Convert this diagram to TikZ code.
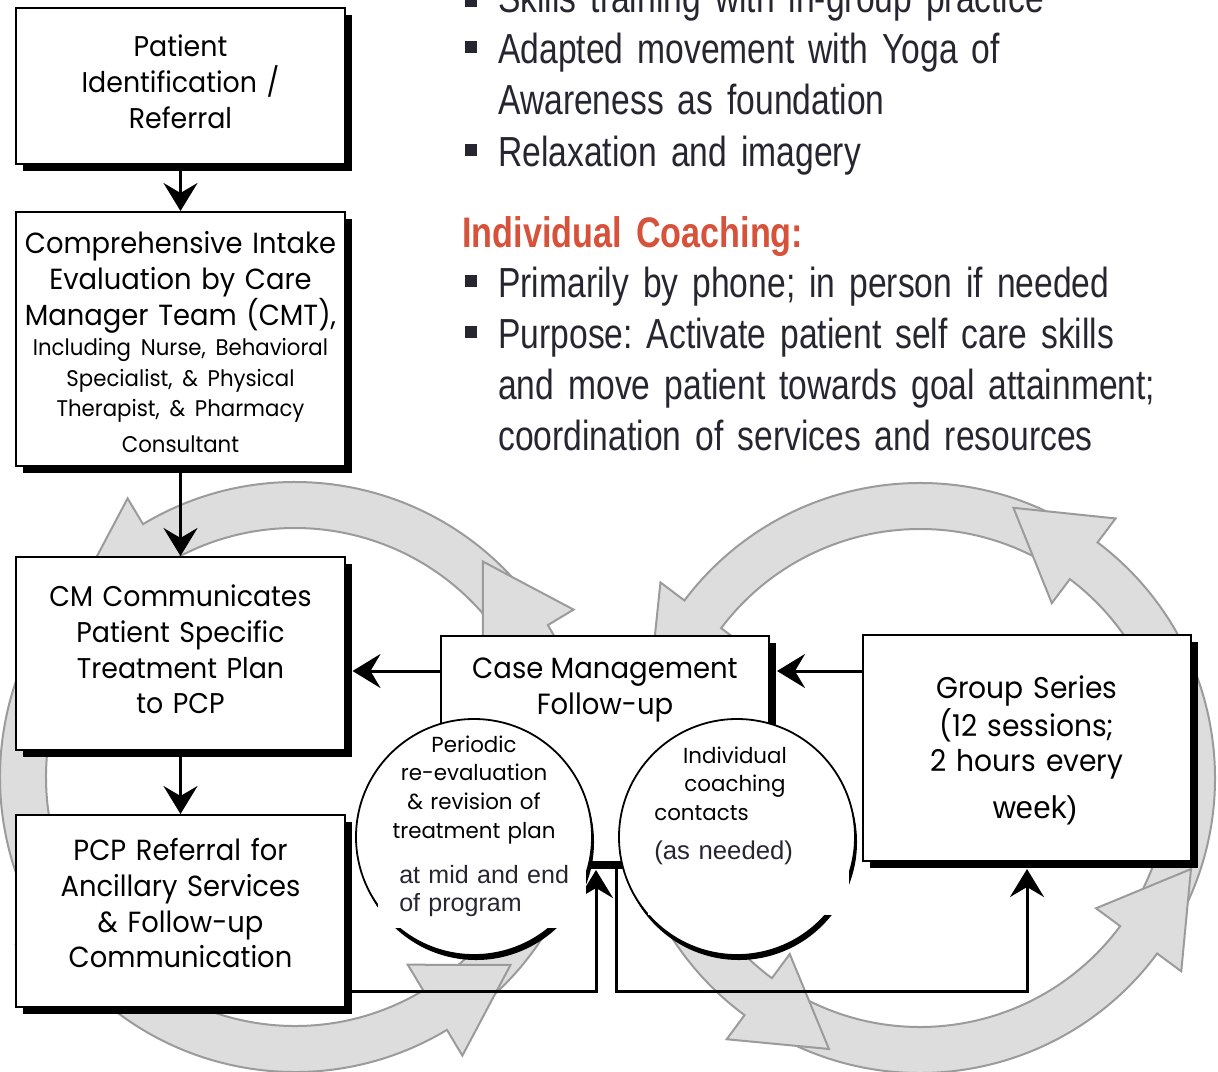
\documentclass[tikz,border=0pt]{standalone}
\usepackage{fontspec}
\usetikzlibrary{arrows.meta,calc,shadows}
\newfontfamily\boxfont{Poppins}[FakeStretch=0.94]
\newfontfamily\circfont{Poppins}[FakeStretch=0.98]
\newfontfamily\narrowfont{Liberation Sans}[FakeStretch=0.80]
\newfontfamily\notefont{Liberation Sans}
\definecolor{ringfill}{RGB}{221,221,221}
\definecolor{ringline}{RGB}{155,155,155}
\definecolor{coachred}{RGB}{214,82,58}
\definecolor{bodytext}{RGB}{38,38,48}
\newcommand\bigboxfont{\boxfont\fontsize{20.3}{25.3}\selectfont}
\newcommand\smallboxfont{\boxfont\fontsize{16.1}{21.7}\selectfont}
\newcommand\circlefont{\circfont\fontsize{15.5}{20.6}\selectfont}
\newcommand\listfont{\narrowfont\fontsize{29.9}{36.3}\selectfont\frenchspacing}
\newcommand\notesize{\notefont\fontsize{17.8}{20.6}\selectfont}
% struts that fix the height of a first line and the depth of a last line
\newcommand\toprule[1]{\rule{0pt}{#1}}
\newcommand\botrule[1]{\rule[-#1]{0pt}{#1}}
\newcommand\ringseg[3]{%
  \draw[ring] ($(#1)+(#3:\rout)$) arc[start angle=#3, end angle=#2, radius=\rout]
    -- ($(#1)+(#2:\rbarbout)$) -- ($(#1)+(#2:\rmid)+(#2+90:\headlen)$)
    -- ($(#1)+(#2:\rbarbin)$) -- ($(#1)+(#2:\rin)$)
    arc[start angle=#2, end angle=#3, radius=\rin] -- cycle;}
\begin{document}
\begin{tikzpicture}
[x=0.25mm, y=0.25mm,
 box/.style={draw, line width=0.5mm, fill=white, inner sep=0pt, minimum width=82mm, text width=81mm, align=center, font=\bigboxfont, drop shadow={shadow xshift=1.75mm, shadow yshift=-1.75mm, fill=black, opacity=1}},
 circ/.style={circle, draw, line width=0.45mm, fill=white, inner sep=0pt, minimum size=59mm, drop shadow={shadow xshift=0.5mm, shadow yshift=-1.25mm, fill=black, opacity=1}},
 circtext/.style={inner sep=0pt, text width=50mm, align=center, font=\circlefont},
 note/.style={anchor=base west, inner sep=0pt, text width=50mm, align=left, font=\notesize, text=bodytext},
 listitem/.style={anchor=base west, inner sep=0pt, text width=185mm, align=left, font=\listfont, text=bodytext},
 bulletsq/.style={fill=bodytext, minimum size=3mm, inner sep=0pt},
 flow/.style={line width=0.75mm, -{Stealth[length=7mm, width=8.5mm, inset=2.5mm]}},
 ring/.style={fill=ringfill, draw=ringline, line width=0.5mm},]
\def\rout{295}
\def\rin{249}
\def\rmid{272}
\def\rbarbout{325}
\def\rbarbin{219}
\def\headlen{88}
\useasboundingbox (0,0) rectangle (1218,-1071);
\clip (0,0) rectangle (1218,-1071);

\coordinate (lc) at (295,-777);
\coordinate (rc) at (920,-778);
\ringseg{lc}{211}{128}
\ringseg{lc}{121}{38}
\ringseg{lc}{31}{-52}
\ringseg{lc}{301}{218}
\ringseg{rc}{143}{60}
\ringseg{rc}{53}{-29.5}
\ringseg{rc}{323.5}{240.5}
\ringseg{rc}{233.5}{153}

\node (pid) at (180.5,-86)[box, minimum height=39mm] {\toprule{6mm}Patient\\Identification /\\Referral\botrule{2.75mm}};
\node (intake) at (180.5,-339)[box, minimum height=63.5mm, font=\boxfont\fontsize{20.7}{25.3}\selectfont] {\toprule{7.875mm}Comprehensive Intake\\Evaluation by Care\\Manager Team (CMT),\par\smallboxfont Including Nurse, Behavioral\\Specialist, \& Physical\\Therapist, \& Pharmacy\\Consultant\botrule{0.875mm}};
\node (cmplan) at (180.5,-653.5)[box, minimum height=48.25mm] {\toprule{6mm}CM Communicates\\Patient Specific\\Treatment Plan\\to PCP\botrule{2.625mm}};
\node (pcpref) at (180.5,-911)[box, minimum height=48mm, font=\boxfont\fontsize{20.7}{25.3}\selectfont] {\toprule{6mm}PCP Referral for\\Ancillary Services\\\& Follow-up\\Communication\botrule{4.375mm}};
\node (casemgmt) at (605,-749)[box, minimum height=56.5mm] {};
\node (cmtxt) at (605,-690)[inner sep=0pt, align=center, font=\boxfont\fontsize{20.8}{25.3}\selectfont] {Case Management\\Follow-up};
\node (grp) at (1027,-748)[box, minimum height=56.5mm, font=\boxfont\fontsize{21.3}{25.3}\selectfont] {\toprule{7.5mm}Group Series\\(12 sessions;\\2 hours every\par\vspace{2.7mm}\notefont\fontsize{22.4}{25}\selectfont\hspace*{4mm}week)\botrule{2.25mm}};

\node (revis) at (474,-837)[circ] {};
\node (coach) at (737,-837)[circ] {};
\node (revistxt) at (474,-752)[circtext, anchor=base] {Periodic\\re-evaluation\\\& revision of\\treatment plan};
\node (coachtxt) at (735,-763)[circtext, anchor=base] {Individual\\coaching};
\node (contacts) at (654,-820)[inner sep=0pt, anchor=base west, font=\circlefont] {contacts};

\draw[flow] (pid) -- (intake);
\draw[flow] (intake) -- (cmplan);
\draw[flow] (cmplan) -- (pcpref);
\coordinate (cmout) at ([yshift=-9mm]casemgmt.north west);
\draw[flow, shorten >=1.75mm] (cmout) -- (cmout -| cmplan.east);
\coordinate (grpout) at ([yshift=-9.25mm]grp.north west);
\draw[flow, shorten >=1.75mm] (grpout) -- (grpout -| casemgmt.east);
\coordinate (pcpout) at ([yshift=4.25mm]pcpref.south east);
\draw[flow, shorten >=1.75mm] (pcpout) -| ([xshift=-2.25mm]casemgmt.south);
\draw[flow, shorten >=1.75mm] ([xshift=2.75mm]casemgmt.south) -- ++(0,-128) -| (grp.south);

\fill[white] (378,-862) rectangle (586,-928);
\node (midend) at (399,-883)[note] {at mid and end\\of program};
\fill[white] (648,-833) rectangle (849,-915);
\node (asneeded) at (654,-859)[note, font=\notefont\fontsize{18.3}{20.6}\selectfont] {(as needed)};

\foreach \y/\n in {-1/a, -47/b, -150/c, -281/d, -332/e}
  \node (bul\n) at (471,\y)[bulletsq] {};
\node (skills) at (498,-12)[listitem] {Skills training with in-group practice};
\node (yoga) at (498,-63)[listitem] {Adapted movement with Yoga of\\Awareness as foundation};
\node (relax) at (498,-166)[listitem] {Relaxation and imagery};
\node (coachhead) at (462,-247)[listitem, text=coachred, font=\narrowfont\fontsize{30.4}{36.3}\selectfont\bfseries] {Individual Coaching:};
\node (phone) at (498,-297)[listitem] {Primarily by phone; in person if needed};
\node (purpose) at (498,-348)[listitem] {Purpose: Activate patient self care skills\\and move patient towards goal attainment;\\coordination of services and resources};

\end{tikzpicture}
\end{document}
